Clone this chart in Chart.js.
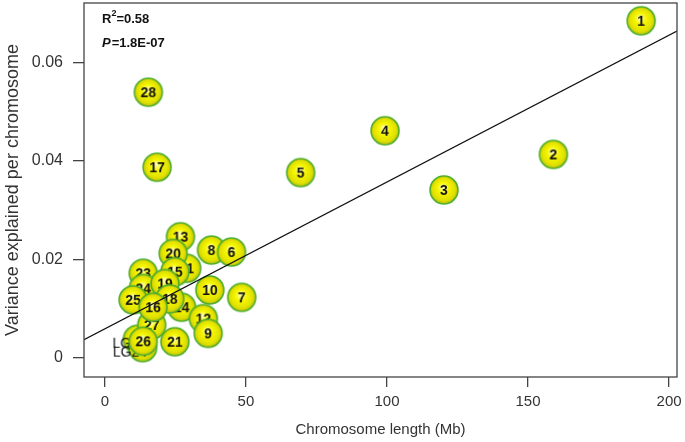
<!DOCTYPE html>
<html>
<head>
<meta charset="utf-8">
<script src="https://cdn.jsdelivr.net/npm/chart.js@4.4.1/dist/chart.umd.min.js"></script>
<style>
  html, body { margin: 0; padding: 0; background: #fff; }
  #wrap { width: 685px; height: 442px; }
</style>
</head>
<body>
<div id="wrap"><canvas id="chart" width="685" height="442"></canvas></div>
<script>
// chromosomes, listed in drawing order (later ones sit on top)
var chrLabels = ["1", "2", "3", "4", "5", "28", "17", "13", "11", "20", "15", "8", "6",
  "23", "24", "19", "25", "14", "18", "27", "16", "10", "7", "12", "9", "26", "21"];
var chrLength = [190.1, 159.0, 120.2, 99.3, 69.4, 15.4, 18.5, 26.8, 29.0, 24.2, 24.8, 37.8, 44.9,
  13.6, 13.6, 21.3, 10.0, 27.2, 23.0, 16.6, 17.1, 37.2, 48.5, 34.9, 36.6, 13.6, 24.8];
var chrVariance = [0.0684, 0.0413, 0.0341, 0.0461, 0.0376, 0.0539, 0.0387, 0.0246, 0.0182, 0.0212, 0.0175, 0.0219, 0.0215,
  0.0172, 0.0141, 0.0151, 0.0118, 0.0103, 0.0120, 0.0067, 0.0103, 0.0138, 0.0123, 0.0080, 0.0050, 0.0034, 0.0033];

// unplaced linkage groups hidden behind 26
var lgLength = [11.5, 13.4];
var lgVariance = [0.0038, 0.0021];
var lgTextLabels = ["LG29", "LG24"];
var lgTextLength = [8.9, 9.0];
var lgTextVariance = [0.0029, 0.0011];

// fitted line, end points
var fitX = [-7.4, 202.8];
var fitY = [0.0037, 0.0663];

var xTicks = [0, 50, 100, 150, 200];
var yTicks = [0, 0.02, 0.04, 0.06];

function makeBall(label) {
  var c = document.createElement("canvas");
  c.width = 32;
  c.height = 32;
  var g = c.getContext("2d");
  var r = 14;
  var grad = g.createRadialGradient(15, 13, 1, 16, 16, r);
  grad.addColorStop(0, "#fdffa8");
  grad.addColorStop(0.35, "#f6f600");
  grad.addColorStop(0.8, "#e0e000");
  grad.addColorStop(1, "#b3bb12");
  g.beginPath();
  g.arc(16, 16, r, 0, Math.PI * 2);
  g.fillStyle = grad;
  g.fill();
  g.lineWidth = 1.5;
  g.strokeStyle = "#4dae2c";
  g.stroke();
  if (label) {
    g.fillStyle = "#111";
    g.font = "bold 14px 'Liberation Sans', Arial, sans-serif";
    g.textAlign = "center";
    g.textBaseline = "middle";
    g.fillText(label, 16, 17);
  }
  return c;
}

function makeText(label) {
  var c = document.createElement("canvas");
  var g = c.getContext("2d");
  var font = "14px 'Liberation Sans', Arial, sans-serif";
  g.font = font;
  var w = Math.ceil(g.measureText(label).width) + 2;
  c.width = w;
  c.height = 18;
  g = c.getContext("2d");
  g.font = font;
  g.fillStyle = "#111";
  g.textBaseline = "middle";
  g.fillText(label, 1, 9);
  return c;
}

function toPoints(xs, ys) {
  return xs.map(function (x, i) { return { x: x, y: ys[i] }; });
}

// box around the plot + R2 / P annotation
var boxPlugin = {
  id: "box",
  afterDraw: function (chart) {
    var a = chart.chartArea;
    var ctx = chart.ctx;
    ctx.save();
    ctx.strokeStyle = "#444";
    ctx.lineWidth = 1.3;
    ctx.strokeRect(a.left, a.top, a.right - a.left, a.bottom - a.top);

    ctx.fillStyle = "#111";
    ctx.textBaseline = "middle";
    var x0 = a.left + 18;
    ctx.font = "bold 13px 'Liberation Sans', Arial, sans-serif";
    ctx.fillText("R", x0, 19);
    var w = ctx.measureText("R").width;
    ctx.font = "bold 9px 'Liberation Sans', Arial, sans-serif";
    ctx.fillText("2", x0 + w, 14);
    var w2 = ctx.measureText("2").width;
    ctx.font = "bold 13px 'Liberation Sans', Arial, sans-serif";
    ctx.fillText("=0.58", x0 + w + w2, 19);

    ctx.font = "italic bold 13px 'Liberation Sans', Arial, sans-serif";
    ctx.fillText("P", x0, 43);
    var wp = ctx.measureText("P").width;
    ctx.font = "bold 13px 'Liberation Sans', Arial, sans-serif";
    ctx.fillText("=1.8E-07", x0 + wp + 1, 43);
    ctx.restore();
  }
};

var axisColor = "#444";
var textColor = "#333";

new Chart(document.getElementById("chart"), {
  type: "scatter",
  data: {
    datasets: [
      {
        data: toPoints(fitX, fitY),
        showLine: true,
        borderColor: "#111",
        borderWidth: 1.2,
        pointRadius: 0,
        order: 0
      },
      {
        data: toPoints(chrLength, chrVariance),
        pointStyle: chrLabels.map(function (l) { return makeBall(l); }),
        pointRadius: 14,
        order: 1
      },
      {
        data: toPoints(lgTextLength, lgTextVariance),
        pointStyle: lgTextLabels.map(function (l) { return makeText(l); }),
        pointRadius: 8,
        order: 2
      },
      {
        data: toPoints(lgLength, lgVariance),
        pointStyle: lgLength.map(function () { return makeBall(""); }),
        pointRadius: 14,
        order: 3
      }
    ]
  },
  options: {
    responsive: false,
    animation: false,
    events: [],
    layout: { autoPadding: false, padding: { top: 3, right: 8, left: 0, bottom: 0 } },
    plugins: {
      legend: { display: false },
      tooltip: { enabled: false }
    },
    scales: {
      x: {
        type: "linear",
        min: -7.4,
        max: 202.8,
        afterBuildTicks: function (scale) {
          scale.ticks = xTicks.map(function (v) { return { value: v }; });
        },
        afterFit: function (scale) {
          scale.height = 65;
          scale.paddingLeft = 0;
          scale.paddingRight = 0;
        },
        border: { display: false },
        grid: {
          drawOnChartArea: false,
          drawTicks: true,
          tickLength: 10,
          color: axisColor,
          lineWidth: 1.3
        },
        ticks: {
          color: textColor,
          padding: 6,
          maxRotation: 0,
          font: { family: "'Liberation Sans', Arial, sans-serif", size: 15 }
        },
        title: {
          display: true,
          text: "Chromosome length (Mb)",
          color: textColor,
          padding: { top: 0, bottom: 3 },
          font: { family: "'Liberation Sans', Arial, sans-serif", size: 15 }
        }
      },
      y: {
        type: "linear",
        min: -0.00385,
        max: 0.072,
        afterBuildTicks: function (scale) {
          scale.ticks = yTicks.map(function (v) { return { value: v }; });
        },
        afterFit: function (scale) {
          scale.width = 84;
          scale.paddingTop = 0;
          scale.paddingBottom = 0;
        },
        border: { display: false },
        grid: {
          drawOnChartArea: false,
          drawTicks: true,
          tickLength: 11,
          color: axisColor,
          lineWidth: 1.3
        },
        ticks: {
          color: textColor,
          padding: 10,
          font: { family: "'Liberation Sans', Arial, sans-serif", size: 16 },
          callback: function (v) { return v === 0 ? "0" : v.toFixed(2); }
        },
        title: {
          display: true,
          text: "Variance explained per chromosome",
          color: textColor,
          padding: { top: 2, bottom: 0 },
          font: { family: "'Liberation Sans', Arial, sans-serif", size: 18 }
        }
      }
    }
  },
  plugins: [boxPlugin]
});
</script>
</body>
</html>
